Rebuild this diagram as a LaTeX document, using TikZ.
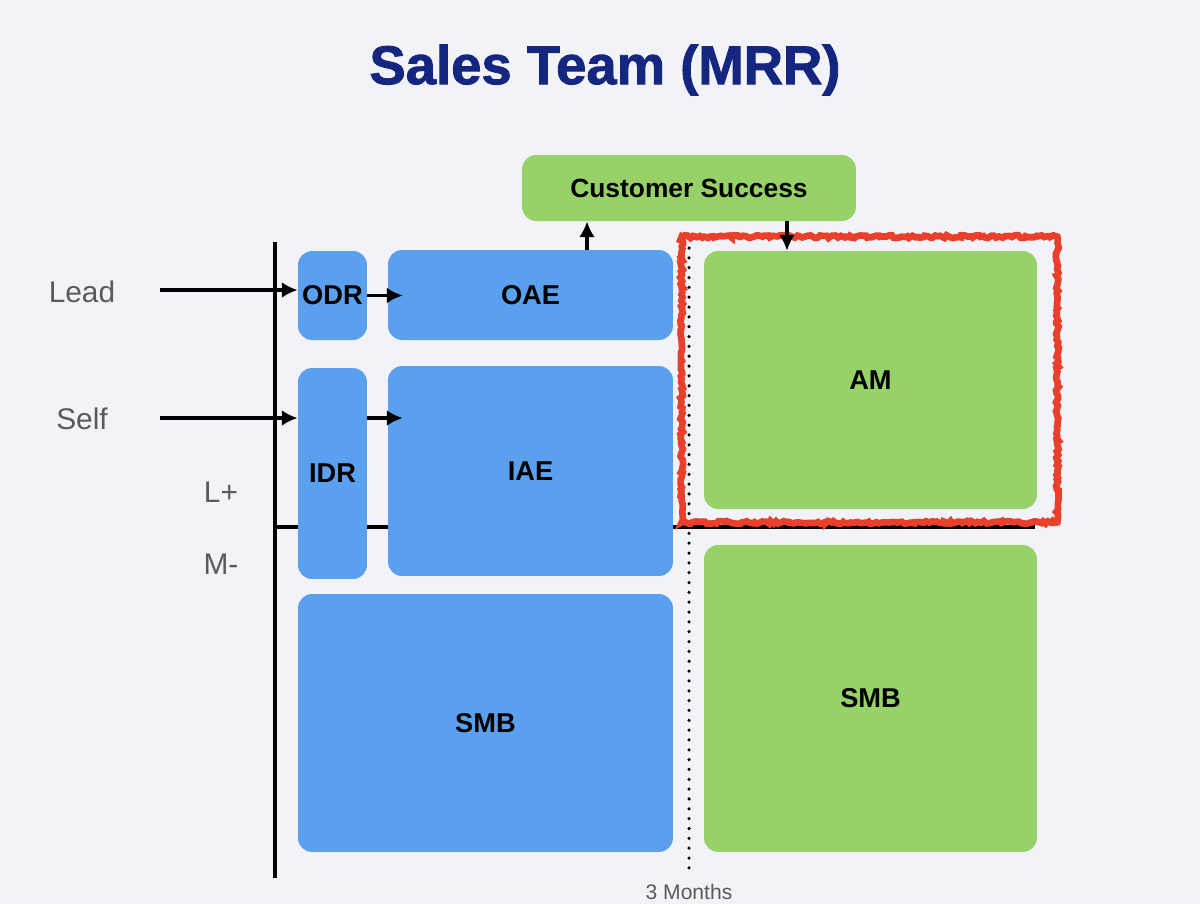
\documentclass[tikz,border=0pt]{standalone}
\usepackage{fontspec}
\setmainfont{Liberation Sans}
\newfontfamily\titlefont[FakeBold=1.6]{Liberation Sans Bold}
\usepackage{tikz}
\usetikzlibrary{arrows.meta, positioning, calc, decorations.pathmorphing}
\definecolor{stbg}{RGB}{241, 243, 249}
\definecolor{stblue}{RGB}{90, 160, 238}
\definecolor{stgreen}{RGB}{150, 210, 104}
\definecolor{stnavy}{RGB}{20, 38, 127}
\definecolor{stred}{RGB}{232, 64, 42}
\definecolor{stgray}{RGB}{90, 90, 90}

\begin{document}
\begin{tikzpicture}[x=0.02cm, y=-0.02cm,
  box/.style={rounded corners=8pt, inner sep=0pt, align=center,
    font=\fontsize{15.5}{18}\selectfont\bfseries},
  bluebox/.style={box, fill=stblue},
  greenbox/.style={box, fill=stgreen},
  flow/.style={line width=2pt, -{Latex[length=9pt, width=9pt]}},
  axis/.style={line width=2pt},
  side/.style={text=stgray, font=\fontsize{17}{20}\selectfont}]
% Background and frame
\fill[stbg] (0,0) rectangle (1200,904);
\useasboundingbox (0,0) rectangle (1200,904);

% Title
\node[text=stnavy, font=\fontsize{31}{36}\selectfont\titlefont] (title) at (605,70) {Sales Team (MRR)};

% Axes and the 3 month divider
\draw[axis] (275,242) -- (275,878);
\draw[axis] (275,527) -- (1035,527);
\draw[line width=2pt, line cap=round, dash pattern=on 0pt off 5.6pt] (689,248) -- (689,872);

% Left side: new business
\node[bluebox, minimum width=1.38cm, minimum height=1.78cm] (odr) at (332.5,295.5) {ODR};
\node[bluebox, minimum width=5.70cm, minimum height=1.80cm] (oae) at (530.5,295) {OAE};
\node[bluebox, minimum width=1.38cm, minimum height=4.22cm] (idr) at (332.5,473.5) {IDR};
\node[bluebox, minimum width=5.70cm, minimum height=4.20cm] (iae) at (530.5,471) {IAE};
\node[bluebox, minimum width=7.50cm, minimum height=5.16cm] (smbl) at (485.5,723) {SMB};

% Right side: after 3 months
\node[greenbox, minimum width=6.68cm, minimum height=1.32cm, font=\fontsize{15}{18}\selectfont\bfseries] (cs) at (689,188) {Customer Success};
\node[greenbox, minimum width=6.66cm, minimum height=5.16cm] (am) at (870.5,380) {AM};
\node[greenbox, minimum width=6.66cm, minimum height=6.14cm] (smbr) at (870.5,698.5) {SMB};

% Highlight
\draw[stred, line width=3.8pt, decorate, decoration={random steps, segment length=1.5pt, amplitude=0.8pt}]
  ([shift={(-22,-14)}]am.north west) rectangle ([shift={(20,13)}]am.south east);

% Side labels
\node[side] (lead) at (82,292) {Lead};
\node[side] (self) at (82,419) {Self};
\node[side] (large) at (221,492) {L+};
\node[side] (mid) at (221,564) {M-};
\node[text=stgray, font=\fontsize{12}{14}\selectfont] (months) at (689,892) {3 Months};

% Flows
\coordinate (leadin) at (160,290);
\coordinate (selfin) at (160,418);
\draw[flow] (leadin) -- (leadin -| odr.west);
\draw[flow] (selfin) -- (selfin -| idr.west);
\draw[flow] (odr.east) -- ($(odr.east -| oae.west)+(15,0)$);
\draw[flow] (selfin -| idr.east) -- ($(selfin -| iae.west)+(15,0)$);
\draw[flow] ($(oae.north)+(56.5,0)$) -- ($(oae.north |- cs.south)+(56.5,0)$);
\draw[flow] ($(cs.south)+(98,0)$) -- ($(cs.south |- am.north)+(98,0)$);
\end{tikzpicture}
\end{document}
